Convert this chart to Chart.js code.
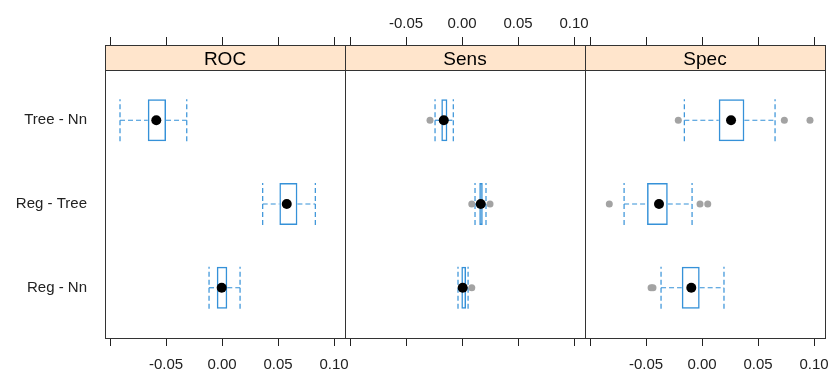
<!DOCTYPE html>
<html>
<head>
<meta charset="utf-8">
<script src="https://cdn.jsdelivr.net/npm/chart.js@4.4.0/dist/chart.umd.min.js"></script>
<style>
  html, body { margin: 0; padding: 0; background: #fff; }
  #wrap { position: relative; width: 830px; height: 375px; }
  #wrap canvas { position: absolute; left: 0; top: 0; }
</style>
</head>
<body>
<div id="wrap">
  <canvas id="panelRoc" width="830" height="375"></canvas>
  <canvas id="panelSens" width="830" height="375"></canvas>
  <canvas id="panelSpec" width="830" height="375"></canvas>
</div>
<script>
// categories from bottom to top
const categories = ["Reg - Nn", "Reg - Tree", "Tree - Nn"];
const panelNames = ["ROC", "Sens", "Spec"];

// per category: [lower whisker, Q1, median, Q3, upper whisker]
const rocStats = [
  [-0.0116, -0.0047, -0.0003, 0.0047, 0.0161],
  [0.0363, 0.0512, 0.0578, 0.0673, 0.0833],
  [-0.0911, -0.0663, -0.0587, -0.05, -0.0315],
];
const sensStats = [
  [-0.0036, -0.0006, 0.0006, 0.0036, 0.0054],
  [0.0116, 0.0154, 0.0167, 0.0185, 0.0214],
  [-0.0241, -0.0185, -0.0163, -0.0131, -0.0078],
];
const specStats = [
  [-0.0366, -0.0181, -0.0096, -0.0021, 0.0196],
  [-0.0696, -0.0491, -0.0384, -0.0306, -0.0089],
  [-0.0158, 0.0149, 0.0259, 0.0378, 0.0652],
];

const rocOutliers = [[], [], []];
const sensOutliers = [[0.0087], [0.0087, 0.025], [-0.0286]];
const specOutliers = [[-0.0455, -0.0438], [-0.0828, -0.0018, 0.0051], [-0.0212, 0.0735, 0.0964]];

const xTicks = [-0.1, -0.05, 0, 0.05, 0.1];
const xTickLabels = ["", "-0.05", "0.00", "0.05", "0.10"];
const xMin = -0.1045;
const xMax = 0.1098;

const FONT = '"Liberation Sans", Arial, sans-serif';
const BLUE = "#3591d8";
const INK = "#222";

// strip background + panel frame
const framePlugin = {
  id: "frame",
  beforeDraw(chart) {
    const t = chart.titleBlock;
    if (!t) return;
    const ctx = chart.ctx;
    ctx.save();
    ctx.fillStyle = "#ffe5cc";
    ctx.fillRect(t.left, t.top, t.width, t.height);
    ctx.restore();
  },
  afterDraw(chart) {
    const a = chart.chartArea;
    const top = chart.titleBlock.top;
    const ctx = chart.ctx;
    const l = Math.round(a.left) + 0.5;
    const r = Math.round(a.right) + 0.5;
    ctx.save();
    ctx.strokeStyle = "#333";
    ctx.lineWidth = 1;
    ctx.strokeRect(l, Math.round(top) + 0.5, r - l, Math.round(a.bottom) - Math.round(top));
    ctx.beginPath();
    ctx.moveTo(l, Math.round(a.top) + 0.5);
    ctx.lineTo(r, Math.round(a.top) + 0.5);
    ctx.stroke();
    ctx.restore();
  },
};

function xAxis(position, showLabels, height) {
  return {
    type: "linear",
    position: position,
    weight: position === "top" ? 3000 : 0,
    min: xMin,
    max: xMax,
    afterBuildTicks: (scale) => {
      scale.ticks = xTicks.map((v) => ({ value: v }));
    },
    afterFit: (scale) => {
      scale.height = height;
      scale.paddingLeft = 0;
      scale.paddingRight = 0;
    },
    grid: {
      display: true,
      drawOnChartArea: false,
      drawTicks: true,
      tickLength: 8,
      color: INK,
    },
    border: { display: false },
    ticks: {
      autoSkip: false,
      maxRotation: 0,
      padding: position === "top" ? 4 : 10,
      color: INK,
      font: { family: FONT, size: 15 },
      callback: (v, i) => (showLabels ? xTickLabels[i] : ""),
    },
  };
}

function makePanel(id, name, stats, outliers, cfg) {
  const datasets = [];

  datasets.push({
    type: "scatter",
    label: "median",
    data: stats.map((s, i) => ({ x: s[2], y: i + 1 })),
    pointRadius: 5,
    pointBackgroundColor: "#000",
    pointBorderWidth: 0,
  });

  const outPts = [];
  outliers.forEach((list, i) => list.forEach((v) => outPts.push({ x: v, y: i + 1 })));
  datasets.push({
    type: "scatter",
    label: "outliers",
    data: outPts,
    pointRadius: 3.5,
    pointBackgroundColor: "#a3a3a3",
    pointBorderWidth: 0,
  });

  datasets.push({
    type: "bar",
    label: "box",
    indexAxis: "y",
    data: stats.map((s, i) => ({ x: [s[1], s[3]], y: i + 1 })),
    backgroundColor: "rgba(255,255,255,0)",
    borderColor: BLUE,
    borderWidth: 1.5,
    borderSkipped: false,
    categoryPercentage: 1,
    barPercentage: 0.5,
  });

  const seg = (pts) => ({
    type: "scatter",
    showLine: true,
    data: pts,
    borderColor: BLUE,
    borderWidth: 1.2,
    borderDash: [5, 3],
    pointRadius: 0,
  });
  stats.forEach((s, i) => {
    const y = i + 1;
    datasets.push(seg([{ x: s[0], y: y }, { x: s[1], y: y }]));
    datasets.push(seg([{ x: s[3], y: y }, { x: s[4], y: y }]));
    datasets.push(seg([{ x: s[0], y: y - 0.25 }, { x: s[0], y: y + 0.25 }]));
    datasets.push(seg([{ x: s[4], y: y - 0.25 }, { x: s[4], y: y + 0.25 }]));
  });

  return new Chart(document.getElementById(id), {
    data: { datasets: datasets },
    options: {
      responsive: false,
      animation: false,
      events: [],
      devicePixelRatio: 1,
      layout: { padding: { left: cfg.left, right: cfg.right, top: 0, bottom: 0 } },
      scales: {
        x: xAxis("bottom", cfg.bottomLabels, 37),
        xTop: xAxis("top", cfg.topLabels, 45),
        y: {
          type: "linear",
          display: cfg.showY,
          offset: false,
          min: 0.4,
          max: 3.6,
          afterBuildTicks: (scale) => {
            scale.ticks = categories.map((c, i) => ({ value: i + 1 }));
          },
          afterFit: (scale) => {
            scale.width = cfg.showY ? 105 : 0;
          },
          grid: { display: false },
          border: { display: false },
          ticks: {
            padding: 10,
            color: INK,
            font: { family: FONT, size: 15 },
            callback: (v) => categories[v - 1],
          },
        },
      },
      plugins: {
        legend: { display: false },
        tooltip: { enabled: false },
        title: {
          display: true,
          text: name,
          fullSize: false,
          color: "#000",
          font: { family: FONT, size: 19, weight: "normal", lineHeight: 1 },
          padding: { top: 5, bottom: 1 },
        },
      },
    },
    plugins: [framePlugin],
  });
}

makePanel("panelRoc", panelNames[0], rocStats, rocOutliers, {
  left: 0, right: 485, showY: true, topLabels: false, bottomLabels: true,
});
makePanel("panelSens", panelNames[1], sensStats, sensOutliers, {
  left: 345, right: 245, showY: false, topLabels: true, bottomLabels: false,
});
makePanel("panelSpec", panelNames[2], specStats, specOutliers, {
  left: 585, right: 5, showY: false, topLabels: false, bottomLabels: true,
});
</script>
</body>
</html>
